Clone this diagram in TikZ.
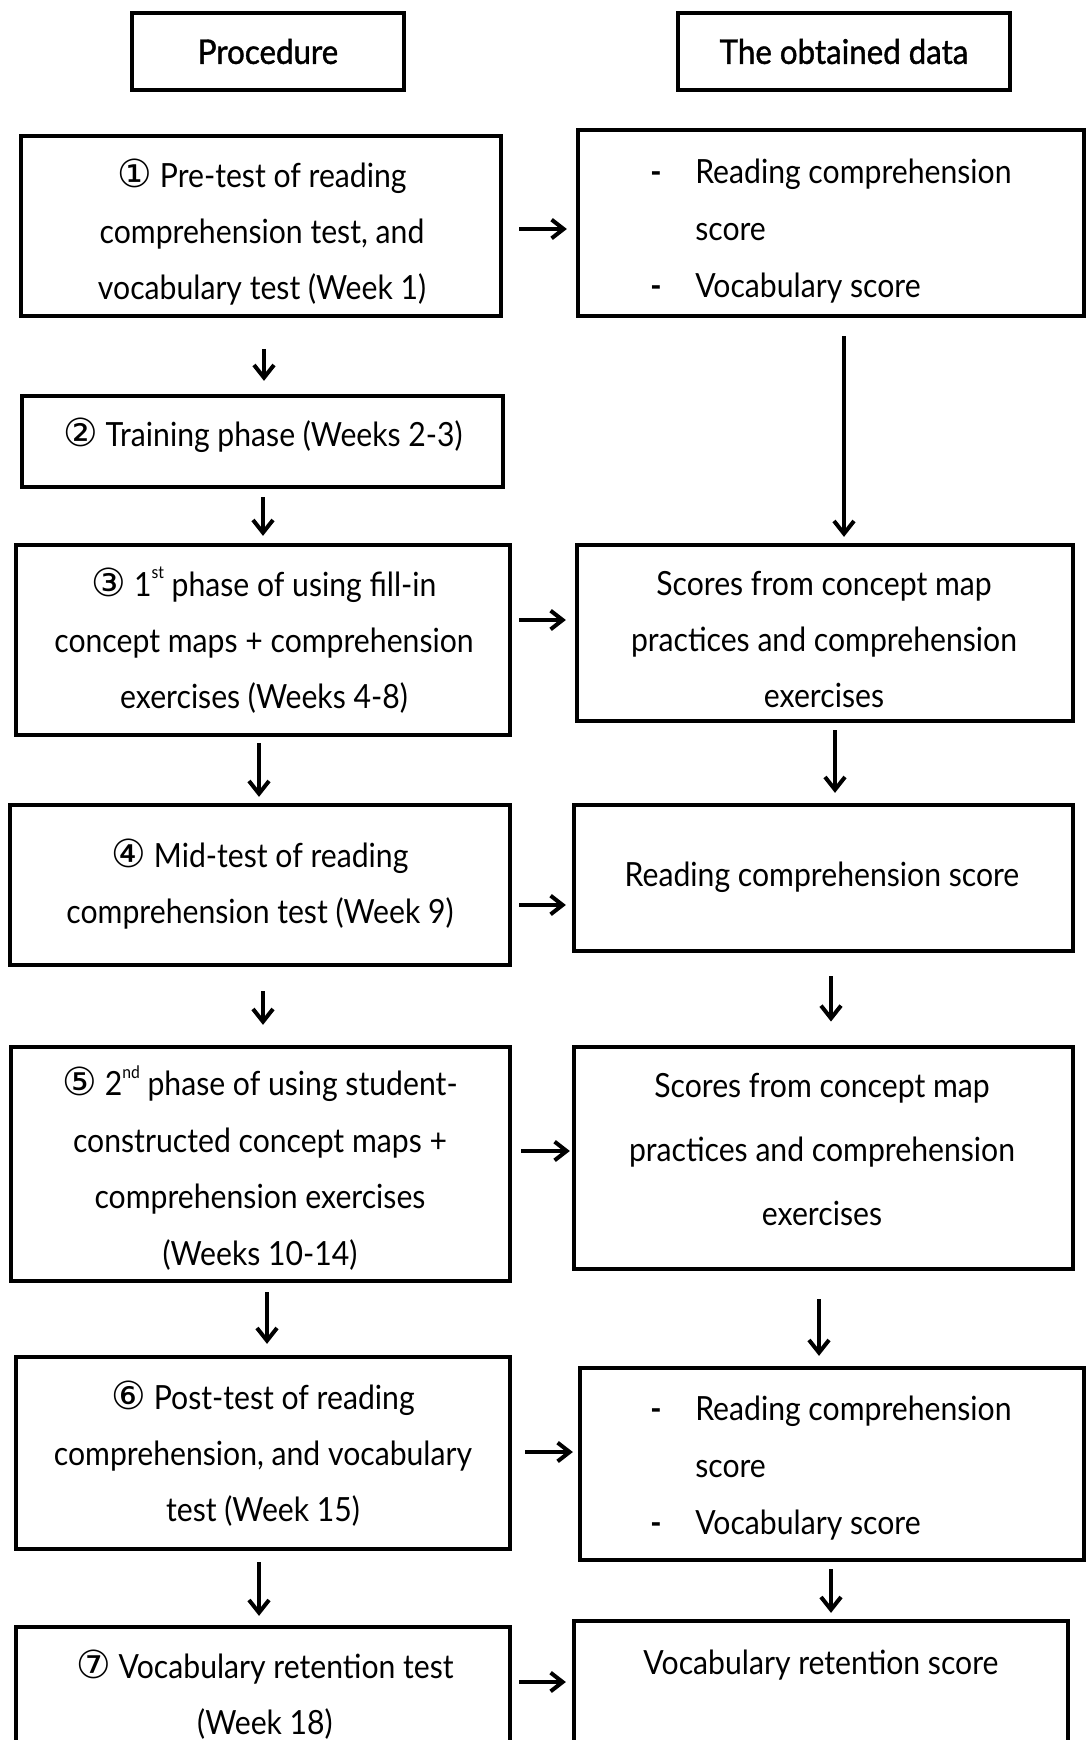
\documentclass[tikz,border=0pt]{standalone}
\usepackage{fontspec}
\setmainfont{Lato}[FakeStretch=0.905]
\newfontfamily\headfont{Lato}[FakeStretch=0.92, FakeBold=1.2]
\newfontfamily\circfont{DejaVu Sans}
\usetikzlibrary{arrows.meta}
% circled step numbers and ordinal suffixes
\newcommand\circnum[1]{{\circfont\fontsize{29}{42}\selectfont #1}}
\newcommand\ordsup[1]{\raisebox{13pt}{\fontsize{13}{13}\selectfont #1}}
\newcommand\itemdash{\makebox[33.75pt][l]{\textbf{-}}}
\newcommand\itemskip{\makebox[33.75pt][l]{}}

\begin{document}
\begin{tikzpicture}[x=0.75pt,y=-0.75pt,
  box/.style={draw, line width=3.2pt, inner sep=0pt},
  headbox/.style={box, font=\headfont\fontsize{25.5}{30}\selectfont},
  txt/.style={inner sep=0pt, align=center, font=\fontsize{25}{42}\selectfont},
  listtxt/.style={inner sep=0pt, align=left, anchor=west, font=\fontsize{25}{43}\selectfont},
  harrow/.style={line width=3pt, -{Straight Barb[length=9pt,width=14pt]}},
  varrow/.style={line width=3pt, -{Straight Barb[length=9.5pt,width=15pt]}}]

\useasboundingbox (0,0) rectangle (1086,1740);
\clip (0,0) rectangle (1086,1740);

% column headers
\node[headbox, minimum width=204pt, minimum height=57.75pt] (H1) at (268,51.5) {Procedure};
\node[headbox, minimum width=249pt, minimum height=57.75pt] (H2) at (844,51.5) {The obtained data};

% procedure boxes (left column)
\node[box, minimum width=360pt,    minimum height=135pt]    (L1) at (261,226) {};
\node[box, minimum width=360.75pt, minimum height=68.25pt]  (L2) at (262.5,441.5) {};
\node[box, minimum width=370.5pt,  minimum height=142.5pt]  (L3) at (263,640) {};
\node[box, minimum width=375pt,    minimum height=120pt]    (L4) at (260,885) {};
\node[box, minimum width=374.25pt, minimum height=175.5pt]  (L5) at (260.5,1164) {};
\node[box, minimum width=370.5pt,  minimum height=144pt]    (L6) at (263,1453) {};
\node[box, minimum width=370.5pt,  minimum height=128.25pt] (L7) at (263,1712.5) {};

% data boxes (right column)
\node[box, minimum width=379.5pt,  minimum height=139.5pt]  (R1) at (831,223) {};
\node[box, minimum width=372pt,    minimum height=132pt]    (R3) at (825,633) {};
\node[box, minimum width=374.25pt, minimum height=109.5pt]  (R4) at (823.5,878) {};
\node[box, minimum width=374.25pt, minimum height=166.5pt]  (R5) at (823.5,1158) {};
\node[box, minimum width=378pt,    minimum height=144pt]    (R6) at (832,1464) {};
\node[box, minimum width=370.5pt,  minimum height=132.75pt] (R7) at (821,1709.5) {};

% box texts
\node[txt] (L1t) at (262,232.5) {\circnum{①} Pre-test of reading\\comprehension test, and\\vocabulary test (Week 1)};
\node[txt] (L2t) at (263,435) {\circnum{②} Training phase (Weeks 2-3)};
\node[txt] (L3t) at (264,640) {\circnum{③} 1\ordsup{st} phase of using fill-in\\concept maps + comprehension\\exercises (Weeks 4-8)};
\node[txt] (L4t) at (260,884) {\circnum{④} Mid-test of reading\\comprehension test (Week 9)};
\node[txt, font=\fontsize{25}{42.5}\selectfont] (L5t) at (260,1168) {\circnum{⑤} 2\ordsup{nd} phase of using student-\\constructed concept maps +\\comprehension exercises\\(Weeks 10-14)};
\node[txt] (L6t) at (263,1454) {\circnum{⑥} Post-test of reading\\comprehension, and vocabulary\\test (Week 15)};
\node[txt] (L7t) at (265,1695) {\circnum{⑦} Vocabulary retention test\\(Week 18)};

\node[listtxt] (R1t) at (650,231) {\itemdash Reading comprehension\\\itemskip score\\\itemdash Vocabulary score};
\node[txt] (R3t) at (824,639.5) {Scores from concept map\\practices and comprehension\\exercises};
\node[txt] (R4t) at (822,877) {Reading comprehension score};
\node[txt, font=\fontsize{25}{48}\selectfont] (R5t) at (822,1150) {Scores from concept map\\practices and comprehension\\exercises};
\node[listtxt] (R6t) at (650,1468) {\itemdash Reading comprehension\\\itemskip score\\\itemdash Vocabulary score};
\node[txt] (R7t) at (821,1665) {Vocabulary retention score};

% levels of the horizontal arrows
\coordinate (h1) at (0,229);
\coordinate (h3) at (0,620);
\coordinate (h4) at (0,905);
\coordinate (h5) at (0,1151);
\coordinate (h6) at (0,1452);
\coordinate (h7) at (0,1682);

\draw[harrow, shorten <=12pt,   shorten >=6.75pt] (L1.east |- h1) -- (R1.west |- h1);
\draw[harrow, shorten <=5.25pt, shorten >=6.75pt] (L3.east |- h3) -- (R3.west |- h3);
\draw[harrow, shorten <=5.25pt, shorten >=4.5pt]  (L4.east |- h4) -- (R4.west |- h4);
\draw[harrow, shorten <=6.75pt, shorten >=1.5pt]  (L5.east |- h5) -- (R5.west |- h5);
\draw[harrow, shorten <=9.75pt, shorten >=3.75pt] (L6.east |- h6) -- (R6.west |- h6);
\draw[harrow, shorten <=5.25pt, shorten >=4.5pt]  (L7.east |- h7) -- (R7.west |- h7);

% columns of the vertical arrows
\coordinate (v1) at (264,0);
\coordinate (v2) at (263,0);
\coordinate (v3) at (259,0);
\coordinate (v4) at (263,0);
\coordinate (v5) at (267,0);
\coordinate (v6) at (259,0);
\coordinate (w1) at (844,0);
\coordinate (w2) at (835,0);
\coordinate (w3) at (831,0);
\coordinate (w4) at (819,0);
\coordinate (w5) at (831,0);

\draw[varrow, shorten <=23pt,   shorten >=9.75pt] (L1.south -| v1) -- (L2.north -| v1);
\draw[varrow, shorten <=6pt,    shorten >=5.25pt] (L2.south -| v2) -- (L3.north -| v2);
\draw[varrow, shorten <=4.5pt,  shorten >=4.5pt]  (L3.south -| v3) -- (L4.north -| v3);
\draw[varrow, shorten <=18pt,   shorten >=15pt]   (L4.south -| v4) -- (L5.north -| v4);
\draw[varrow, shorten <=6.75pt, shorten >=8.25pt] (L5.south -| v5) -- (L6.north -| v5);
\draw[varrow, shorten <=8.25pt, shorten >=6.75pt] (L6.south -| v6) -- (L7.north -| v6);

\draw[varrow, shorten <=13.5pt, shorten >=4.5pt]  (R1.south -| w1) -- (R3.north -| w1);
\draw[varrow, shorten <=5.25pt, shorten >=7.5pt]  (R3.south -| w2) -- (R4.north -| w2);
\draw[varrow, shorten <=17.25pt,shorten >=17.5pt] (R4.south -| w3) -- (R5.north -| w3);
\draw[varrow, shorten <=21pt,   shorten >=7.5pt]  (R5.south -| w4) -- (R6.north -| w4);
\draw[varrow, shorten <=5.25pt, shorten >=4.5pt]  (R6.south -| w5) -- (R7.north -| w5);
\end{tikzpicture}
\end{document}
